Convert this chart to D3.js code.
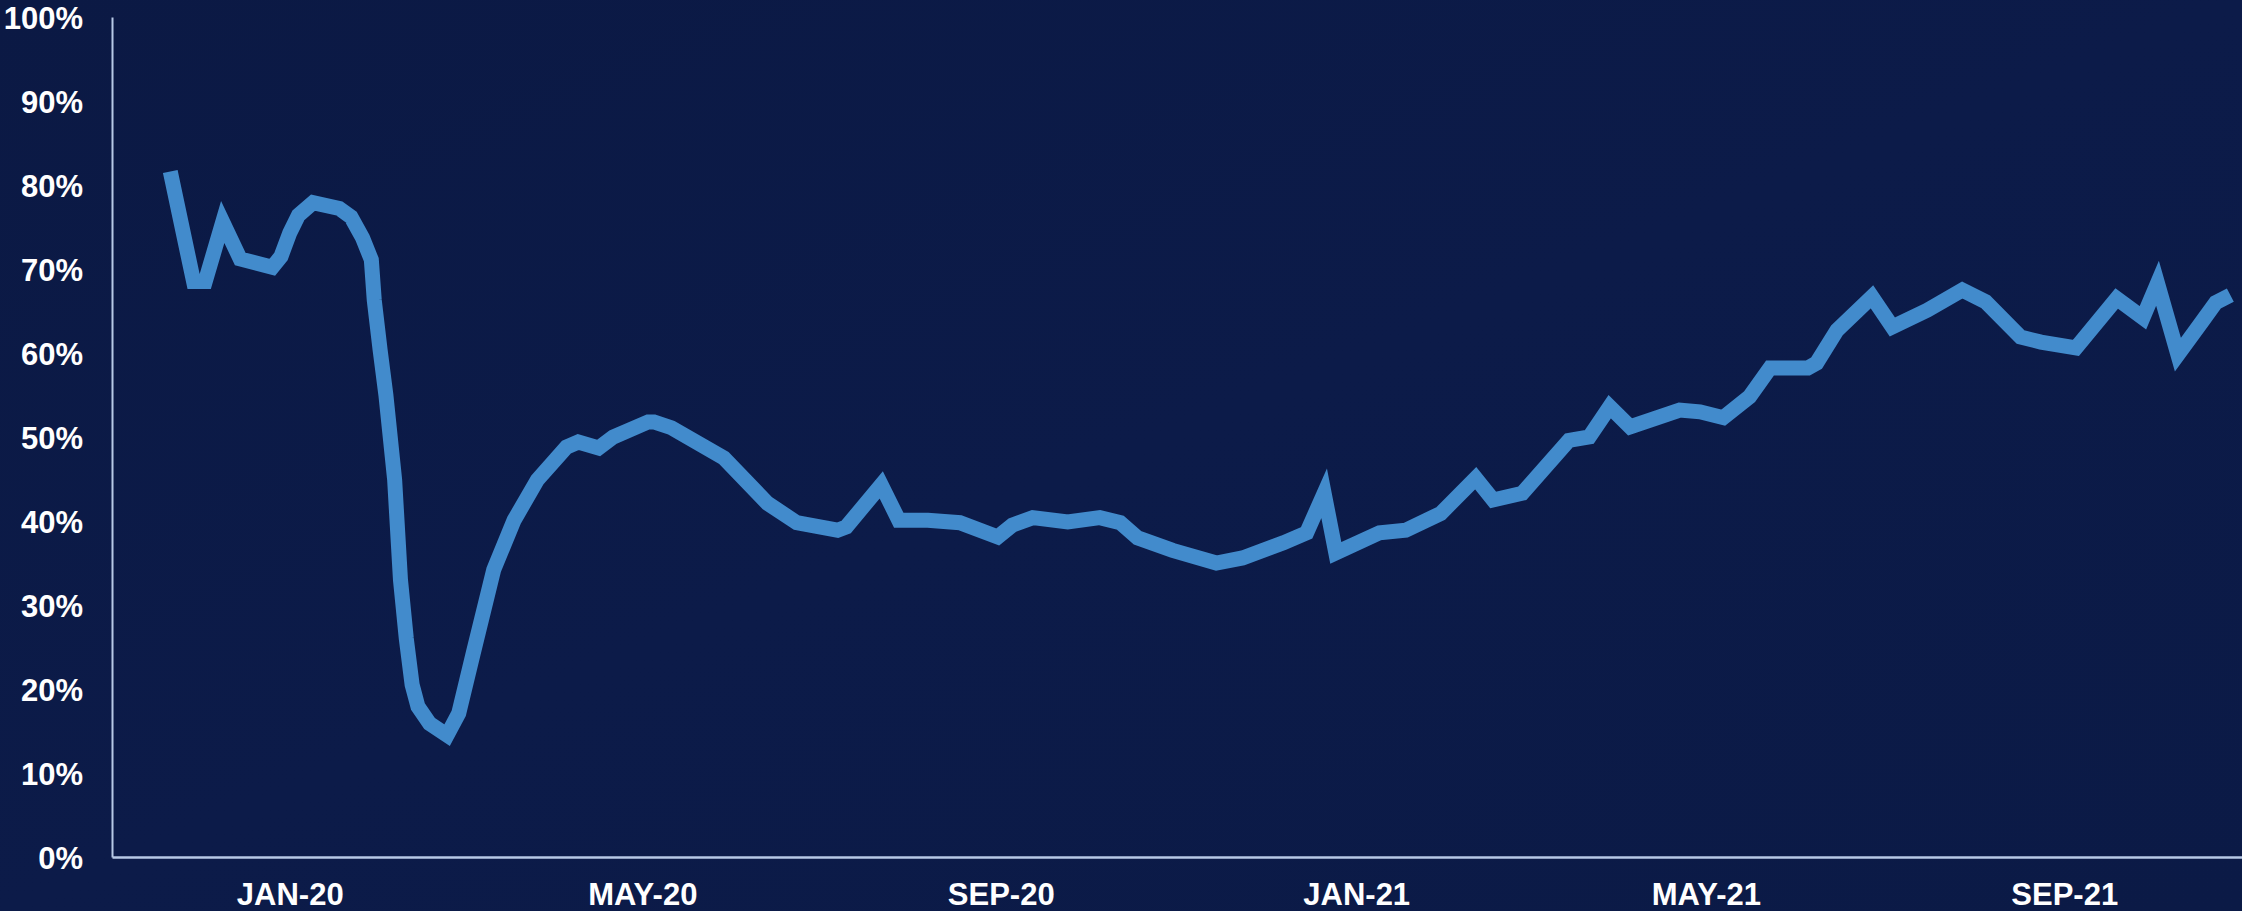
<!DOCTYPE html>
<html>
<head>
<meta charset="utf-8">
<script src="https://cdn.jsdelivr.net/npm/d3@7"></script>
<style>
  html, body { margin: 0; padding: 0; background: #0b1a47; overflow: hidden; }
  svg { display: block; }
  text { font-family: "Liberation Sans", Arial, sans-serif; font-weight: bold; fill: #ffffff; }
</style>
</head>
<body>
<svg id="chart" width="2242" height="911"></svg>
<script>
// ---- data ----
const dates = [
  "2019-11-21","2019-11-29","2019-12-03","2019-12-09","2019-12-15","2019-12-26","2019-12-29",
  "2020-01-01","2020-01-04","2020-01-09","2020-01-18","2020-01-22","2020-01-26","2020-01-29",
  "2020-01-30","2020-02-01","2020-02-03","2020-02-06","2020-02-08","2020-02-10","2020-02-12",
  "2020-02-14","2020-02-18","2020-02-24","2020-02-28","2020-03-04","2020-03-11","2020-03-18",
  "2020-03-26","2020-04-05","2020-04-09","2020-04-16","2020-04-21","2020-05-03","2020-05-05",
  "2020-05-11","2020-05-29","2020-06-13","2020-06-23","2020-07-07","2020-07-10","2020-07-22",
  "2020-07-28","2020-08-07","2020-08-18","2020-08-31","2020-09-05","2020-09-12","2020-09-24",
  "2020-10-05","2020-10-12","2020-10-18","2020-10-30","2020-11-14","2020-11-23","2020-12-07",
  "2020-12-15","2020-12-21","2020-12-25","2021-01-09","2021-01-18","2021-01-30","2021-02-11",
  "2021-02-17","2021-02-27","2021-03-15","2021-03-22","2021-03-29","2021-04-05","2021-04-22",
  "2021-04-29","2021-05-07","2021-05-16","2021-05-23","2021-06-05","2021-06-08","2021-06-15",
  "2021-06-27","2021-07-04","2021-07-16","2021-07-28","2021-08-05","2021-08-17","2021-08-24",
  "2021-09-05","2021-09-19","2021-09-28","2021-10-03","2021-10-10","2021-10-18","2021-10-23",
  "2021-10-28"
];
const values = [
  81.6, 68.5, 68.5, 75.6, 71.2, 70.2, 71.5,
  74.3, 76.4, 77.9, 77.2, 76.2, 73.7, 71.1,
  66.3, 60.4, 55.0, 44.9, 33.0, 26.0, 20.5,
  17.9, 15.9, 14.5, 17.1, 24.3, 34.2, 40.1,
  44.9, 48.8, 49.4, 48.7, 50.0, 51.8, 51.8,
  51.1, 47.5, 42.1, 39.8, 38.9, 39.3, 44.3,
  40.1, 40.1, 39.8, 38.1, 39.5, 40.4, 39.9,
  40.4, 39.8, 38.0, 36.5, 35.0, 35.6, 37.4,
  38.6, 43.3, 36.2, 38.6, 38.9, 40.9, 45.1,
  42.5, 43.3, 49.6, 50.0, 53.6, 51.2, 53.2,
  53.0, 52.3, 54.8, 58.2, 58.2, 58.8, 62.7,
  66.7, 63.1, 65.1, 67.5, 66.1, 61.9, 61.3,
  60.6, 66.5, 64.2, 68.3, 59.8, 63.6, 66.0,
  66.9
];
const yTicks = [0, 10, 20, 30, 40, 50, 60, 70, 80, 90, 100];
const xTickDates = ["2020-01-01","2020-05-01","2020-09-01","2021-01-01","2021-05-01","2021-09-01"];
const xTickLabels = ["JAN-20","MAY-20","SEP-20","JAN-21","MAY-21","SEP-21"];
const xDomain = ["2019-11-01","2021-11-01"];

// ---- layout ----
const W = 2242, H = 911;
const mLeft = 112, mRight = 2242, mTop = 17, mBottom = 857;

const parse = d3.timeParse("%Y-%m-%d");
const svg = d3.select("#chart");

// background
const defs = svg.append("defs");
const grad = defs.append("linearGradient").attr("id","bg").attr("x1","0").attr("y1","0").attr("x2","1").attr("y2","1");
grad.append("stop").attr("offset","0%").attr("stop-color","#0b1944");
grad.append("stop").attr("offset","50%").attr("stop-color","#0c1b49");
grad.append("stop").attr("offset","100%").attr("stop-color","#0b1a46");
svg.append("rect").attr("width", W).attr("height", H).attr("fill", "url(#bg)");

const x = d3.scaleTime().domain(xDomain.map(parse)).range([mLeft, mRight]);
const y = d3.scaleLinear().domain([0, 100]).range([mBottom, mTop]);

const data = dates.map((d, i) => ({ date: parse(d), value: values[i] }));

// y axis
const yAxis = svg.append("g")
  .attr("transform", `translate(${mLeft},0)`)
  .call(d3.axisLeft(y).tickValues(yTicks).tickFormat(d => d + "%").tickSize(0).tickPadding(29));
yAxis.select(".domain").attr("stroke", "#b7c9e6").attr("stroke-width", 2);
yAxis.selectAll("text")
  .attr("font-size", 31)
  .attr("font-family", "Liberation Sans, Arial, sans-serif")
  .attr("font-weight", "bold")
  .attr("fill", "#ffffff")
  .attr("dy", "0.36em");

// x axis
const labelMap = new Map(xTickDates.map((d, i) => [+parse(d), xTickLabels[i]]));
const xAxis = svg.append("g")
  .attr("transform", `translate(0,${mBottom})`)
  .call(d3.axisBottom(x).tickValues(xTickDates.map(parse)).tickFormat(d => labelMap.get(+d)).tickSize(0).tickPadding(26));
xAxis.select(".domain").attr("stroke", "#b7c9e6").attr("stroke-width", 2.5);
xAxis.selectAll("text")
  .attr("font-size", 31)
  .attr("font-family", "Liberation Sans, Arial, sans-serif")
  .attr("font-weight", "bold")
  .attr("fill", "#ffffff");

// line
const line = d3.line().x(d => x(d.date)).y(d => y(d.value)).curve(d3.curveLinear);
svg.append("path")
  .datum(data)
  .attr("d", line)
  .attr("fill", "none")
  .attr("stroke", "#428bcc")
  .attr("stroke-width", 15)
  .attr("stroke-linejoin", "miter")
  .attr("stroke-miterlimit", 4)
  .attr("stroke-linecap", "butt");
</script>
</body>
</html>
